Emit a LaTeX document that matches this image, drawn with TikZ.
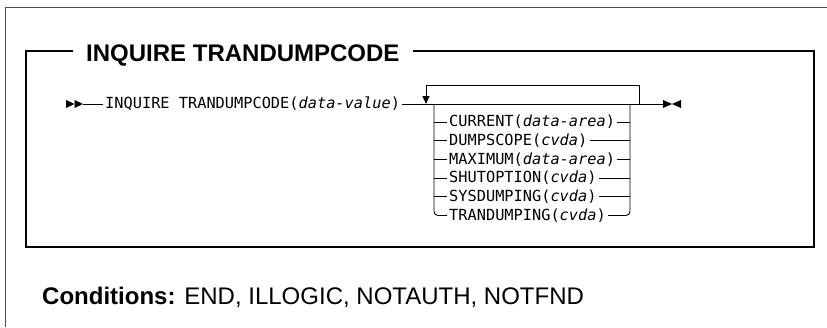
\documentclass[tikz,border=0pt]{standalone}
\usepackage{fontspec}
\setmainfont{Liberation Sans}
\newfontfamily\railfont{DejaVu Sans Mono}
\usetikzlibrary{arrows.meta, calc}

\begin{document}
\begin{tikzpicture}[x=1pt, y=-1pt,
    rail/.style={line width=0.9pt},
    frame/.style={line width=1.4pt},
    outer/.style={line width=1pt, black!70},
    syn/.style={font=\railfont\fontsize{15.3}{18}\selectfont, inner xsep=2pt, inner ysep=0pt},
    head/.style={font=\fontsize{24}{28}\selectfont\bfseries, inner sep=0pt}
  ]
  \useasboundingbox (0,0) rectangle (827,327);

  % outer frame
  \draw[outer] (5,327) -- (5,7) -- (827,7);

  % title and inner box
  \node[head, anchor=base west] (title) at (86,61.7) {INQUIRE TRANDUMPCODE};
  \coordinate (tl) at (26,51);
  \coordinate (br) at (814,247);
  \draw[frame] ($(title.west |- tl)+(-13,0)$) -- (tl) |- (br)
    |- ($(title.east |- tl)+(13,0)$);

  % main rail
  \coordinate (s1) at (66,104);
  \coordinate (s2) at (74.5,104);
  \coordinate (s3) at (83,104);
  \fill (s1) ++(0,-4) -- (s2) -- ++(-8.5,4) -- cycle;
  \fill (s2) ++(0,-4) -- (s3) -- ++(-8.5,4) -- cycle;
  \node[syn, anchor=west] (cmd) at (103,104) {INQUIRE TRANDUMPCODE(\textit{data-value})};
  \coordinate (e1) at (663,104);
  \coordinate (e2) at (672,104);
  \coordinate (e3) at (681,104);
  \draw[rail] (s3) -- (cmd.west);
  \draw[rail] (cmd.east) -- (e1);
  \fill (e1) ++(0,-4) -- (e2) -- ++(-9,4) -- cycle;
  \fill (e3) ++(0,-4) -- (e2) -- ++(9,4) -- cycle;

  % repeat loop
  \coordinate (lpL) at (426,104);
  \coordinate (lpR) at (639,104);
  \draw[rail, -{Triangle[width=7pt,length=8pt]}] (lpR) -- ++(0,-19) -| (lpL);

  % choices
  \coordinate (chL) at (434,104);
  \coordinate (chR) at (630,104);
  \foreach \name/\kw/\arg [count=\i from 0] in {cur/CURRENT/data-area,
      dmp/DUMPSCOPE/cvda, max/MAXIMUM/data-area, sht/SHUTOPTION/cvda,
      sys/SYSDUMPING/cvda, trd/TRANDUMPING/cvda} {
    \node[syn, anchor=west] (\name) at (447,122+18.7*\i) {\kw(\textit{\arg})};
  }
  \foreach \name in {cur, dmp, max, sht, sys} {
    \draw[rail] (chL |- \name.west) -- (\name.west);
    \draw[rail] (\name.east) -- (chR |- \name.east);
  }
  \draw[rail, rounded corners=4pt] (chL) |- (trd.west);
  \draw[rail, rounded corners=4pt] (trd.east) -| (chR);

  % conditions
  \node[anchor=base west, inner sep=0pt, font=\fontsize{24}{28}\selectfont] (cond)
    at (42,304.6) {\textbf{Conditions:} END, ILLOGIC, NOTAUTH, NOTFND};
\end{tikzpicture}
\end{document}
